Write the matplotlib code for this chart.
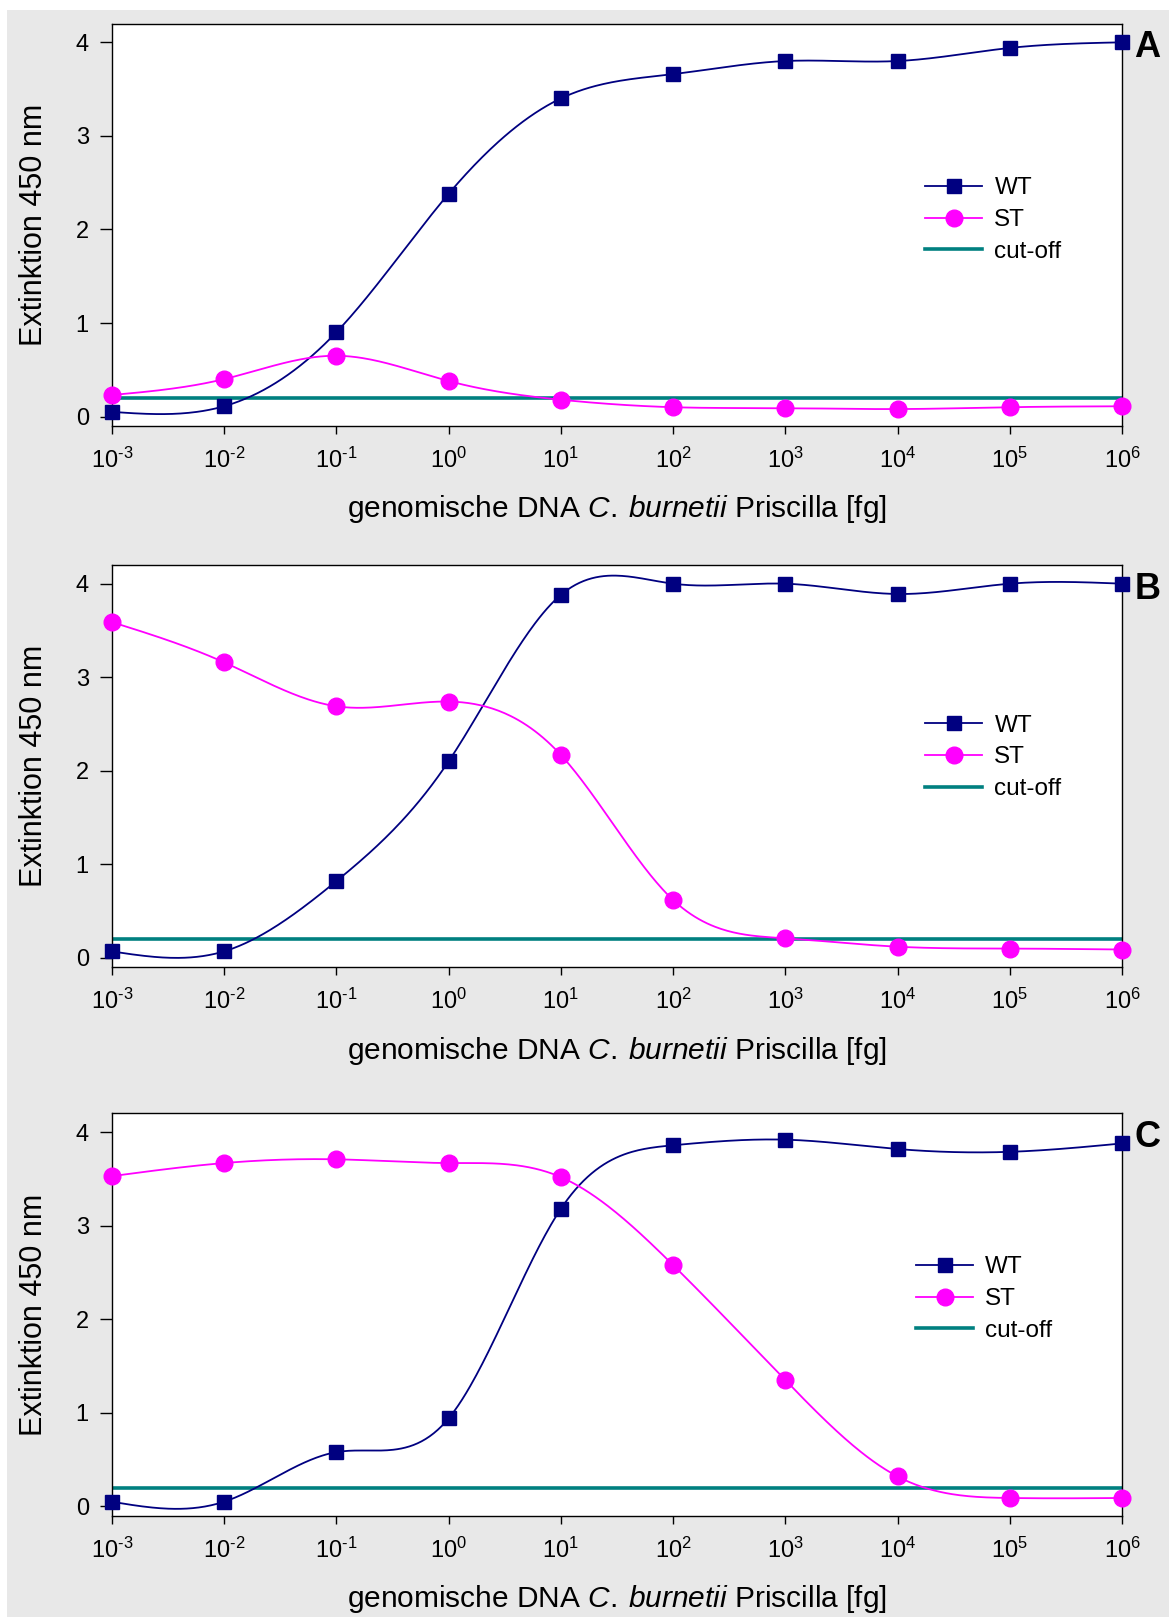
import numpy as np
import matplotlib
matplotlib.use("Agg")
import matplotlib.pyplot as plt
from matplotlib.patches import Rectangle

plt.rcParams["font.family"] = ["Liberation Sans", "DejaVu Sans"]
plt.rcParams["mathtext.fontset"] = "custom"
plt.rcParams["mathtext.rm"] = "Liberation Sans"
plt.rcParams["mathtext.it"] = "Liberation Sans:italic"

# DNA amount in fg (log steps)
dna_fg = [1e-3, 1e-2, 1e-1, 1e0, 1e1, 1e2, 1e3, 1e4, 1e5, 1e6]
tick_labels = [r"$10^{\text{-}3}$", r"$10^{\text{-}2}$", r"$10^{\text{-}1}$", r"$10^{0}$",
               r"$10^{1}$", r"$10^{2}$", r"$10^{3}$", r"$10^{4}$", r"$10^{5}$", r"$10^{6}$"]

wt_a = [0.05, 0.11, 0.90, 2.38, 3.40, 3.66, 3.80, 3.80, 3.94, 4.00]
st_a = [0.23, 0.40, 0.65, 0.38, 0.18, 0.10, 0.09, 0.08, 0.10, 0.11]

wt_b = [0.07, 0.07, 0.82, 2.10, 3.88, 4.00, 4.00, 3.89, 4.00, 4.00]
st_b = [3.59, 3.16, 2.69, 2.74, 2.17, 0.62, 0.21, 0.12, 0.10, 0.09]

wt_c = [0.05, 0.05, 0.58, 0.94, 3.18, 3.86, 3.92, 3.82, 3.79, 3.88]
st_c = [3.53, 3.67, 3.71, 3.67, 3.52, 2.58, 1.35, 0.32, 0.09, 0.09]

cutoff = 0.2
panel_letters = ["A", "B", "C"]


def natural_spline(x, y, xs):
    # natural cubic spline through (x, y), evaluated at xs
    x = np.asarray(x, float)
    y = np.asarray(y, float)
    n = len(x)
    h = np.diff(x)
    A = np.zeros((n, n))
    r = np.zeros(n)
    A[0, 0] = A[-1, -1] = 1.0
    for i in range(1, n - 1):
        A[i, i - 1] = h[i - 1]
        A[i, i] = 2 * (h[i - 1] + h[i])
        A[i, i + 1] = h[i]
        r[i] = 3 * ((y[i + 1] - y[i]) / h[i] - (y[i] - y[i - 1]) / h[i - 1])
    c = np.linalg.solve(A, r)
    b = (y[1:] - y[:-1]) / h - h * (2 * c[:-1] + c[1:]) / 3
    d = (c[1:] - c[:-1]) / (3 * h)
    idx = np.clip(np.searchsorted(x, xs) - 1, 0, n - 2)
    t = xs - x[idx]
    return y[idx] + b[idx] * t + c[idx] * t ** 2 + d[idx] * t ** 3


fig = plt.figure(figsize=(11.69, 16.17), dpi=100, facecolor="white")
fig.patches.append(Rectangle((7 / 1169, 0), 1, 1607 / 1617, transform=fig.transFigure,
                             facecolor="#e8e8e8", edgecolor="none", zorder=-10))

panels = [(wt_a, st_a), (wt_b, st_b), (wt_c, st_c)]
bottoms = [0.7366, 0.4018, 0.0626]
legend_anchor = [(0.793, 0.648), (0.793, 0.658), (0.784, 0.675)]

logx = np.log10(dna_fg)
xs = np.linspace(logx[0], logx[-1], 500)

for i, (wt, st) in enumerate(panels):
    ax = fig.add_axes([0.0956, bottoms[i], 0.8643, 0.2488])
    ax.set_facecolor("white")

    ax.plot(10 ** xs, natural_spline(logx, wt, xs), color="#000080", lw=1.3, zorder=3)
    ax.plot(10 ** xs, natural_spline(logx, st, xs), color="#ff00ff", lw=1.3, zorder=3)
    ax.axhline(cutoff, color="#008080", lw=2.6, zorder=2)
    ax.plot(dna_fg, wt, "s", color="#000080", ms=10.5, zorder=4, clip_on=False)
    ax.plot(dna_fg, st, "o", color="#ff00ff", ms=12, zorder=4, clip_on=False)

    h1, = ax.plot([], [], "s-", color="#000080", lw=1.3, ms=10.5, label="WT")
    h2, = ax.plot([], [], "o-", color="#ff00ff", lw=1.3, ms=12, label="ST")
    h3, = ax.plot([], [], "-", color="#008080", lw=2.6, label="cut-off")
    ax.legend(handles=[h1, h2, h3], loc="upper left", bbox_to_anchor=legend_anchor[i],
              frameon=False, fontsize=17.5, handlelength=2.35, handletextpad=0.5,
              labelspacing=0.4, borderpad=0)

    ax.set_xscale("log")
    ax.set_xlim(dna_fg[0], dna_fg[-1])
    ax.set_ylim(-0.1, 4.2)
    ax.set_xticks(dna_fg)
    ax.set_xticklabels(tick_labels)
    ax.minorticks_off()
    ax.set_yticks([0, 1, 2, 3, 4])

    ax.tick_params(axis="x", direction="out", length=5.5, width=1, pad=10, labelsize=17)
    ax.tick_params(axis="y", direction="out", length=8.5, width=1, pad=8, labelsize=17)
    for s in ax.spines.values():
        s.set_linewidth(1.0)

    ax.set_ylabel("Extinktion 450 nm", fontsize=22, labelpad=19)
    ax.set_xlabel(r"genomische DNA $\mathit{C.\>burnetii}$ Priscilla [fg]",
                  fontsize=21.5, labelpad=15)

    ax.text(1.025, 0.94, panel_letters[i], transform=ax.transAxes, fontsize=26,
            fontweight="bold", ha="center", va="center")

fig.savefig("out.png", dpi=100, facecolor=fig.get_facecolor())
